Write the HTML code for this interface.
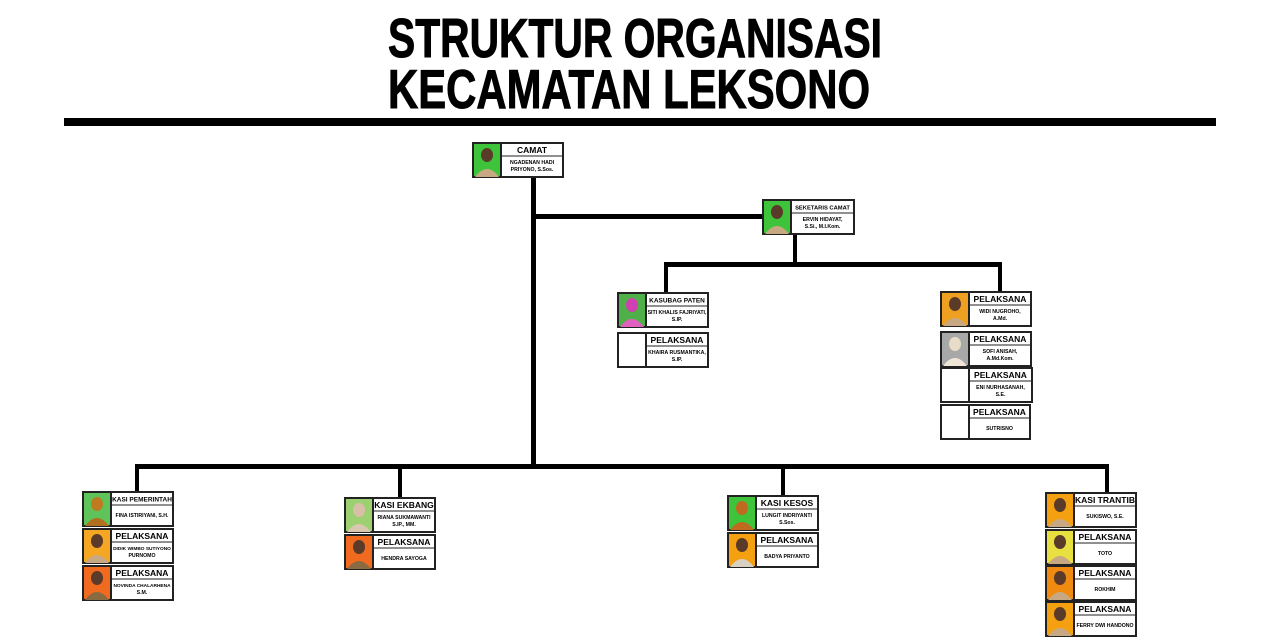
<!DOCTYPE html>
<html><head><meta charset="utf-8"><style>html,body{margin:0;padding:0;background:#fff}svg{display:block}text{font-family:"Liberation Sans",sans-serif;font-weight:bold;fill:#000}.b{stroke:#222;stroke-width:2}.t{font-size:8.5px;text-anchor:middle}.s{font-size:6.5px;text-anchor:middle}.n{font-size:5.2px;text-anchor:middle}.hd{fill:#5a3a28}.bd{fill:#c8a882}</style></head><body>
<svg width="1280" height="640" viewBox="0 0 1280 640" xmlns="http://www.w3.org/2000/svg">
<rect width="1280" height="640" fill="#fff"/>
<text x="388" y="57" font-size="55" textLength="494" lengthAdjust="spacingAndGlyphs" stroke="#000" stroke-width="1">STRUKTUR ORGANISASI</text>
<text x="388" y="108" font-size="55" textLength="482" lengthAdjust="spacingAndGlyphs" stroke="#000" stroke-width="1">KECAMATAN LEKSONO</text>
<rect x="64" y="118" width="1152" height="8" fill="#000"/>
<g fill="#000">
<rect x="531" y="177" width="5" height="291"/>
<rect x="531" y="214" width="233" height="5"/>
<rect x="793" y="234" width="4" height="32"/>
<rect x="664" y="262" width="338" height="5"/>
<rect x="664" y="262" width="4" height="32"/>
<rect x="998" y="262" width="4" height="31"/>
<rect x="135" y="464" width="974" height="5"/>
<rect x="135" y="464" width="4" height="29"/>
<rect x="398" y="464" width="4" height="35"/>
<rect x="781" y="464" width="4" height="33"/>
<rect x="1105" y="464" width="4" height="30"/>
</g>

<g transform="translate(473,143)"><rect class="b" width="28" height="34" fill="#3ec43a"/><ellipse class="hd" cx="14" cy="12" rx="6" ry="7"/><path class="bd" d="M2 34Q14 18 26 34Z"/><rect class="b" x="28" width="62" height="34" fill="#fff"/><line x1="28" y1="13" x2="90" y2="13" stroke="#222"/><text class="t" x="59" y="10">CAMAT</text><text class="n" x="59" y="21">NGADENAN HADI</text><text class="n" x="59" y="28">PRIYONO, S.Sos.</text></g>
<g transform="translate(763,200)"><rect class="b" width="28" height="34" fill="#3ec43a"/><ellipse class="hd" cx="14" cy="12" rx="6" ry="7"/><path class="bd" d="M2 34Q14 18 26 34Z"/><rect class="b" x="28" width="63" height="34" fill="#fff"/><line x1="28" y1="13" x2="91" y2="13" stroke="#222"/><text class="s" x="59.5" y="9.5" style="font-size:5.8px">SEKETARIS CAMAT</text><text class="n" x="59.5" y="21">ERVIN HIDAYAT,</text><text class="n" x="59.5" y="28">S.Si., M.I.Kom.</text></g>
<g transform="translate(618,293)"><rect class="b" width="28" height="34" fill="#4fb04a"/><ellipse class="hd" cx="14" cy="12" rx="6" ry="7" style="fill:#d040b0"/><path class="bd" d="M2 34Q14 18 26 34Z" style="fill:#e060c0"/><rect class="b" x="28" width="62" height="34" fill="#fff"/><line x1="28" y1="13" x2="90" y2="13" stroke="#222"/><text class="s" x="59" y="9.5">KASUBAG PATEN</text><text class="n" x="59" y="21">SITI KHALIS FAJRIYATI,</text><text class="n" x="59" y="28">S.IP.</text></g>
<g transform="translate(618,333)"><rect class="b" width="28" height="34" fill="#fff"/><rect class="b" x="28" width="62" height="34" fill="#fff"/><line x1="28" y1="13" x2="90" y2="13" stroke="#222"/><text class="t" x="59" y="10">PELAKSANA</text><text class="n" x="59" y="21">KHAIRA RUSMANTIKA,</text><text class="n" x="59" y="28">S.IP.</text></g>
<g transform="translate(941,292)"><rect class="b" width="28" height="34" fill="#f0a020"/><ellipse class="hd" cx="14" cy="12" rx="6" ry="7"/><path class="bd" d="M2 34Q14 18 26 34Z"/><rect class="b" x="28" width="62" height="34" fill="#fff"/><line x1="28" y1="13" x2="90" y2="13" stroke="#222"/><text class="t" x="59" y="10">PELAKSANA</text><text class="n" x="59" y="21">WIDI NUGROHO,</text><text class="n" x="59" y="28">A.Md.</text></g>
<g transform="translate(941,332)"><rect class="b" width="28" height="34" fill="#a8a8a8"/><ellipse class="hd" cx="14" cy="12" rx="6" ry="7" style="fill:#e8dcc8"/><path class="bd" d="M2 34Q14 18 26 34Z" style="fill:#efe6d8"/><rect class="b" x="28" width="62" height="34" fill="#fff"/><line x1="28" y1="13" x2="90" y2="13" stroke="#222"/><text class="t" x="59" y="10">PELAKSANA</text><text class="n" x="59" y="21">SOFI ANISAH,</text><text class="n" x="59" y="28">A.Md.Kom.</text></g>
<g transform="translate(941,368)"><rect class="b" width="28" height="34" fill="#fff"/><rect class="b" x="28" width="63" height="34" fill="#fff"/><line x1="28" y1="13" x2="91" y2="13" stroke="#222"/><text class="t" x="59.5" y="10">PELAKSANA</text><text class="n" x="59.5" y="21">ENI NURHASANAH,</text><text class="n" x="59.5" y="28">S.E.</text></g>
<g transform="translate(941,405)"><rect class="b" width="28" height="34" fill="#fff"/><rect class="b" x="28" width="61" height="34" fill="#fff"/><line x1="28" y1="13" x2="89" y2="13" stroke="#222"/><text class="t" x="58.5" y="10">PELAKSANA</text><text class="n" x="58.5" y="25">SUTRISNO</text></g>
<g transform="translate(83,492)"><rect class="b" width="28" height="34" fill="#5ec45a"/><ellipse class="hd" cx="14" cy="12" rx="6" ry="7" style="fill:#c07a20"/><path class="bd" d="M2 34Q14 18 26 34Z" style="fill:#b07020"/><rect class="b" x="28" width="62" height="34" fill="#fff"/><line x1="28" y1="13" x2="90" y2="13" stroke="#222"/><text class="s" x="59" y="9.5">KASI PEMERINTAH</text><text class="n" x="59" y="25">FINA ISTIRIYANI, S.H.</text></g>
<g transform="translate(83,529)"><rect class="b" width="28" height="34" fill="#f5a623"/><ellipse class="hd" cx="14" cy="12" rx="6" ry="7"/><path class="bd" d="M2 34Q14 18 26 34Z"/><rect class="b" x="28" width="62" height="34" fill="#fff"/><line x1="28" y1="13" x2="90" y2="13" stroke="#222"/><text class="t" x="59" y="10">PELAKSANA</text><text class="n" x="59" y="21" style="font-size:4.8px">DIDIK WIMBO SUTIYONO</text><text class="n" x="59" y="28">PURNOMO</text></g>
<g transform="translate(83,566)"><rect class="b" width="28" height="34" fill="#f06a20"/><ellipse class="hd" cx="14" cy="12" rx="6" ry="7"/><path class="bd" d="M2 34Q14 18 26 34Z" style="fill:#8a6a40"/><rect class="b" x="28" width="62" height="34" fill="#fff"/><line x1="28" y1="13" x2="90" y2="13" stroke="#222"/><text class="t" x="59" y="10">PELAKSANA</text><text class="n" x="59" y="21" style="font-size:4.8px">NOVINDA CHALARHENA</text><text class="n" x="59" y="28">S.M.</text></g>
<g transform="translate(345,498)"><rect class="b" width="28" height="34" fill="#9cd070"/><ellipse class="hd" cx="14" cy="12" rx="6" ry="7" style="fill:#d8c0a8"/><path class="bd" d="M2 34Q14 18 26 34Z" style="fill:#d8c8b0"/><rect class="b" x="28" width="62" height="34" fill="#fff"/><line x1="28" y1="13" x2="90" y2="13" stroke="#222"/><text class="t" x="59" y="10">KASI EKBANG</text><text class="n" x="59" y="21">RIANA SUKMAWANTI</text><text class="n" x="59" y="28">S.IP., MM.</text></g>
<g transform="translate(345,535)"><rect class="b" width="28" height="34" fill="#f06a20"/><ellipse class="hd" cx="14" cy="12" rx="6" ry="7"/><path class="bd" d="M2 34Q14 18 26 34Z" style="fill:#8a6a40"/><rect class="b" x="28" width="62" height="34" fill="#fff"/><line x1="28" y1="13" x2="90" y2="13" stroke="#222"/><text class="t" x="59" y="10">PELAKSANA</text><text class="n" x="59" y="25">HENDRA SAYOGA</text></g>
<g transform="translate(728,496)"><rect class="b" width="28" height="34" fill="#3ec43a"/><ellipse class="hd" cx="14" cy="12" rx="6" ry="7" style="fill:#c06a20"/><path class="bd" d="M2 34Q14 18 26 34Z" style="fill:#c06a20"/><rect class="b" x="28" width="62" height="34" fill="#fff"/><line x1="28" y1="13" x2="90" y2="13" stroke="#222"/><text class="t" x="59" y="10">KASI KESOS</text><text class="n" x="59" y="21">LUNGIT INDRIYANTI</text><text class="n" x="59" y="28">S.Sos.</text></g>
<g transform="translate(728,533)"><rect class="b" width="28" height="34" fill="#f5a010"/><ellipse class="hd" cx="14" cy="12" rx="6" ry="7"/><path class="bd" d="M2 34Q14 18 26 34Z" style="fill:#d8d0c0"/><rect class="b" x="28" width="62" height="34" fill="#fff"/><line x1="28" y1="13" x2="90" y2="13" stroke="#222"/><text class="t" x="59" y="10">PELAKSANA</text><text class="n" x="59" y="25">BADYA PRIYANTO</text></g>
<g transform="translate(1046,493)"><rect class="b" width="28" height="34" fill="#f5a010"/><ellipse class="hd" cx="14" cy="12" rx="6" ry="7"/><path class="bd" d="M2 34Q14 18 26 34Z"/><rect class="b" x="28" width="62" height="34" fill="#fff"/><line x1="28" y1="13" x2="90" y2="13" stroke="#222"/><text class="t" x="59" y="10">KASI TRANTIB</text><text class="n" x="59" y="25">SUKISWO, S.E.</text></g>
<g transform="translate(1046,530)"><rect class="b" width="28" height="34" fill="#e8e040"/><ellipse class="hd" cx="14" cy="12" rx="6" ry="7"/><path class="bd" d="M2 34Q14 18 26 34Z"/><rect class="b" x="28" width="62" height="34" fill="#fff"/><line x1="28" y1="13" x2="90" y2="13" stroke="#222"/><text class="t" x="59" y="10">PELAKSANA</text><text class="n" x="59" y="25">TOTO</text></g>
<g transform="translate(1046,566)"><rect class="b" width="28" height="34" fill="#f08a10"/><ellipse class="hd" cx="14" cy="12" rx="6" ry="7"/><path class="bd" d="M2 34Q14 18 26 34Z"/><rect class="b" x="28" width="62" height="34" fill="#fff"/><line x1="28" y1="13" x2="90" y2="13" stroke="#222"/><text class="t" x="59" y="10">PELAKSANA</text><text class="n" x="59" y="25">ROKHIM</text></g>
<g transform="translate(1046,602)"><rect class="b" width="28" height="34" fill="#f5a010"/><ellipse class="hd" cx="14" cy="12" rx="6" ry="7"/><path class="bd" d="M2 34Q14 18 26 34Z"/><rect class="b" x="28" width="62" height="34" fill="#fff"/><line x1="28" y1="13" x2="90" y2="13" stroke="#222"/><text class="t" x="59" y="10">PELAKSANA</text><text class="n" x="59" y="25">FERRY DWI HANDONO</text></g>
</svg>
</body></html>
